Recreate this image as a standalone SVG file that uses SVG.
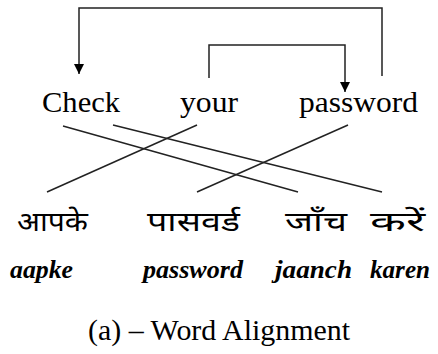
<svg xmlns="http://www.w3.org/2000/svg" width="438" height="354" viewBox="0 0 438 354">
<defs>
<marker id="arr" viewBox="0 0 10 10" refX="10" refY="5" markerWidth="10" markerHeight="10" markerUnits="userSpaceOnUse" orient="auto">
<path d="M0,0 L10,5 L0,10 z" fill="#000"/>
</marker>
<style>
.en{font-family:"Liberation Serif",serif;font-size:30px;fill:#000}
.hi{font-family:"Noto Sans Devanagari","Noto Sans",sans-serif;font-size:27px;fill:#000}
.tr{font-family:"Liberation Serif",serif;font-size:25px;font-weight:bold;font-style:italic;fill:#000}
.cap{font-family:"Liberation Serif",serif;font-size:29px;fill:#000}
.ln{stroke:#222;stroke-width:1.5;fill:none}
</style>
</defs>
<rect width="438" height="354" fill="#fff"/>
<g id="connectors">
<polyline class="ln" points="382,76 382,8 79,8 79,74" marker-end="url(#arr)"/>
<polyline class="ln" points="209,78 209,45 345,45 345,92" marker-end="url(#arr)"/>
<line class="ln" x1="63" y1="126" x2="298" y2="192"/>
<line class="ln" x1="113" y1="125" x2="382" y2="192"/>
<line class="ln" x1="197" y1="125" x2="47" y2="192"/>
<line class="ln" x1="348" y1="125" x2="197" y2="192"/>
</g>
<g id="node-check"><text class="en" x="42" y="112" textLength="78" lengthAdjust="spacingAndGlyphs">Check</text></g>
<g id="node-your"><text class="en" x="180" y="112" textLength="58" lengthAdjust="spacingAndGlyphs">your</text></g>
<g id="node-password"><text class="en" x="299" y="112" textLength="119" lengthAdjust="spacingAndGlyphs">password</text></g>
<g id="node-aapke">
<text class="hi" x="17" y="231" textLength="71" lengthAdjust="spacingAndGlyphs">आपके</text>
<text class="tr" x="10" y="278" textLength="63" lengthAdjust="spacingAndGlyphs">aapke</text>
</g>
<g id="node-passvard">
<text class="hi" x="147" y="231" textLength="93" lengthAdjust="spacingAndGlyphs">पासवर्ड</text>
<text class="tr" x="143" y="278" textLength="100" lengthAdjust="spacingAndGlyphs">password</text>
</g>
<g id="node-jaanch">
<text class="hi" x="285" y="231" textLength="62" lengthAdjust="spacingAndGlyphs">जाँच</text>
<text class="tr" x="275" y="278" textLength="77" lengthAdjust="spacingAndGlyphs">jaanch</text>
</g>
<g id="node-karen">
<text class="hi" x="370" y="231" textLength="55" lengthAdjust="spacingAndGlyphs">करें</text>
<text class="tr" x="370" y="278" textLength="60" lengthAdjust="spacingAndGlyphs">karen</text>
</g>
<text class="cap" x="88" y="340" textLength="262" lengthAdjust="spacingAndGlyphs">(a) – Word Alignment</text>
</svg>
